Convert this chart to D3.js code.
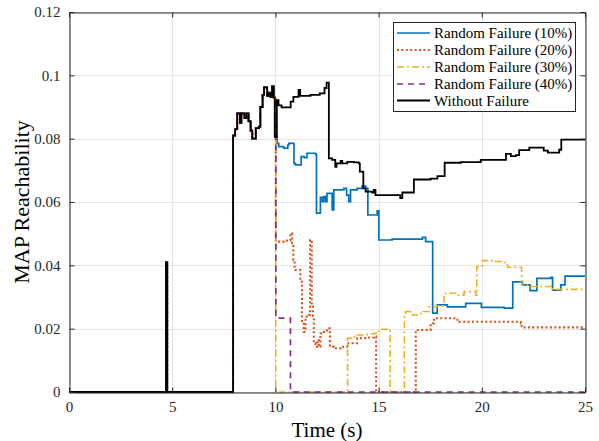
<!DOCTYPE html>
<html>
<head>
<meta charset="utf-8">
<script src="https://cdn.jsdelivr.net/npm/d3@7"></script>
<style>
  body { margin: 0; background: #fff; }
  svg { display: block; }
  svg text { font-family: "Liberation Serif", "Times New Roman", serif; }
</style>
</head>
<body>
<svg id="chart" width="599" height="441"></svg>
<script>
// ---- data: [time (s), reachability], each value holds until the next time ----
const xTicks = [0, 5, 10, 15, 20, 25];
const yTicks = [0, 0.02, 0.04, 0.06, 0.08, 0.1, 0.12];
const yTickLabels = ["0", "0.02", "0.04", "0.06", "0.08", "0.1", "0.12"];
const seriesNames = ["Random Failure (10%)", "Random Failure (20%)", "Random Failure (30%)", "Random Failure (40%)", "Without Failure"];

// shared start, before any failure is injected
const sharedStart = [
  [0, 0], [4.70, 0.041], [4.76, 0], [7.95, 0.0810], [8.05, 0.0830], [8.15, 0.0880],
  [8.28, 0.0850], [8.35, 0.0880], [8.50, 0.0865], [8.60, 0.0880], [8.70, 0.0855],
  [8.80, 0.0825], [8.88, 0.0800], [9.05, 0.0833], [9.20, 0.0838], [9.27, 0.0900],
  [9.38, 0.0938], [9.45, 0.0962], [9.60, 0.0935], [9.68, 0.0945], [9.76, 0.0932],
  [9.84, 0.0965], [9.92, 0.0930]
];

const fail10 = [
  [9.97, 0.0806], [10.08, 0.0785], [10.16, 0.0775], [10.40, 0.0770], [10.60, 0.0780],
  [10.65, 0.0785], [10.90, 0.0722], [10.97, 0.0717], [11.25, 0.0743], [11.40, 0.0740],
  [11.53, 0.0754], [11.95, 0.0750], [11.99, 0.0565], [12.18, 0.0615], [12.27, 0.0601],
  [12.34, 0.0617], [12.43, 0.0601], [12.50, 0.0627], [12.75, 0.0575], [12.83, 0.0638],
  [13.32, 0.0643], [13.45, 0.0622], [13.55, 0.0601], [13.64, 0.0638], [13.96, 0.0643],
  [14.20, 0.0650], [14.37, 0.0643], [14.48, 0.0559], [14.93, 0.0572], [15.01, 0.0480],
  [15.66, 0.0483], [17.12, 0.0488], [17.28, 0.0475], [17.62, 0.0249], [17.84, 0.0275],
  [18.33, 0.0269], [19.22, 0.0280], [19.98, 0.0267], [21.08, 0.0265], [21.50, 0.0348],
  [21.97, 0.0338], [22.34, 0.0320], [22.67, 0.0359], [23.35, 0.0362], [23.43, 0.0322],
  [23.83, 0.0338], [24.03, 0.0366], [25, 0.0364]
];

const fail20 = [
  [10.02, 0.0475], [10.40, 0.0478], [10.73, 0.0501], [10.81, 0.0470], [10.87, 0.0417],
  [10.93, 0.0385], [11.21, 0.0348], [11.29, 0.0220], [11.37, 0.0190], [11.46, 0.0238],
  [11.62, 0.0243], [11.68, 0.0480], [11.76, 0.0270], [11.82, 0.0240], [11.86, 0.0154],
  [11.94, 0.0143], [12.03, 0.0164], [12.10, 0.0143], [12.18, 0.0185], [12.35, 0.0190],
  [12.50, 0.0201], [12.64, 0.0143], [12.83, 0.0138], [13.16, 0.0143], [13.48, 0.0154],
  [13.96, 0.0170], [14.45, 0.0172], [14.77, 0.0175], [14.88, 0], [16.80, 0.0196],
  [17.52, 0.0217], [17.68, 0.0233], [18.82, 0.0228], [18.90, 0.0222], [21.89, 0.0217],
  [21.93, 0.0204], [25, 0.0204]
];

const fail30 = [
  [10.02, 0], [13.50, 0.0170], [13.72, 0.0175], [13.96, 0.0180], [14.45, 0.0183],
  [14.77, 0.0185], [15.01, 0.0198], [15.56, 0], [16.25, 0.0238], [16.31, 0.0254],
  [16.47, 0.0259], [16.55, 0.0243], [17.04, 0.0254], [17.44, 0.0269], [17.80, 0.0272],
  [18.17, 0.0306], [18.25, 0.0312], [18.74, 0.0306], [19.14, 0.0317], [19.71, 0.0306],
  [19.76, 0.0396], [19.95, 0.0398], [20.03, 0.0415], [20.68, 0.0412], [21.08, 0.0409],
  [21.25, 0.0394], [21.93, 0.0338], [22.22, 0.0333], [23.35, 0.0335], [23.43, 0.0324],
  [25, 0.0324]
];

const fail40 = [
  [10.02, 0.0233], [10.73, 0], [25, 0]
];

const noFailure = [
  [9.97, 0.0806], [10.07, 0.0922], [10.15, 0.0905], [10.30, 0.0899], [10.74, 0.0917],
  [10.87, 0.0932], [11.12, 0.0954], [11.20, 0.0935], [11.70, 0.0938], [12.15, 0.0943],
  [12.38, 0.0960], [12.48, 0.0977], [12.59, 0.0738], [12.75, 0.0733], [12.90, 0.0711],
  [12.96, 0.0722], [13.16, 0.0730], [13.24, 0.0722], [13.48, 0.0727], [13.80, 0.0725],
  [14.04, 0.0722], [14.09, 0.0696], [14.26, 0.0643], [14.37, 0.0633], [14.69, 0.0630],
  [14.77, 0.0638], [14.85, 0.0622], [16.05, 0.0612], [16.15, 0.0630], [16.71, 0.0671],
  [17.52, 0.0674], [17.85, 0.0682], [18.20, 0.0724], [18.98, 0.0726], [19.95, 0.0733],
  [21.17, 0.0752], [21.41, 0.0745], [21.65, 0.0748], [21.81, 0.0764], [22.30, 0.0772],
  [23.00, 0.0762], [23.20, 0.0756], [23.75, 0.0765], [23.85, 0.0797], [25, 0.0797]
];

const seriesColors = ["#0072BD", "#D95319", "#EDB120", "#7E2F8E", "#000000"];
const seriesDash = [null, "2,2.4", "7,3,2,3", "6,5", null];
const seriesWidth = [1.7, 2.1, 1.6, 1.7, 1.8];

// ---- layout ----
const svg = d3.select("#chart");
const M = { left: 69, right: 585, top: 12, bottom: 392 };
const FONT = "Liberation Serif, Times New Roman, serif";

const x = d3.scaleLinear().domain([0, 25]).range([M.left, M.right]);
const y = d3.scaleLinear().domain([0, 0.12]).range([M.bottom, M.top]);

// grid
const grid = svg.append("g").attr("stroke", "#e3e3e3").attr("stroke-width", 1);
xTicks.forEach(t => grid.append("line")
  .attr("x1", Math.round(x(t)) + 0.5).attr("x2", Math.round(x(t)) + 0.5)
  .attr("y1", M.top).attr("y2", M.bottom));
yTicks.forEach(t => grid.append("line")
  .attr("x1", M.left).attr("x2", M.right)
  .attr("y1", Math.round(y(t)) + 0.5).attr("y2", Math.round(y(t)) + 0.5));

// lines
svg.append("clipPath").attr("id", "plotClip").append("rect")
  .attr("x", M.left).attr("y", M.top - 2)
  .attr("width", M.right - M.left).attr("height", M.bottom - M.top + 3);

const line = d3.line().x(d => x(d[0])).y(d => y(d[1])).curve(d3.curveStepAfter);
const allSeries = [fail10, fail20, fail30, fail40, noFailure].map(tail => sharedStart.concat(tail));

const plot = svg.append("g").attr("clip-path", "url(#plotClip)");
allSeries.forEach((data, i) => {
  plot.append("path")
    .datum(data)
    .attr("d", line)
    .attr("fill", "none")
    .attr("stroke", seriesColors[i])
    .attr("stroke-width", seriesWidth[i])
    .attr("stroke-linejoin", "miter")
    .attr("stroke-dasharray", seriesDash[i]);
});

// axes: d3 axes with inward ticks on all four sides
const tickFmtY = (d, i) => yTickLabels[i];
const axisStyle = g => {
  g.attr("font-family", FONT).attr("font-size", 15);
  g.select(".domain").attr("stroke", "#262626").attr("stroke-width", 1);
  g.selectAll(".tick line").attr("stroke", "#262626");
  g.selectAll(".tick text").style("font-family", FONT).style("font-size", "15px").attr("fill", "#262626");
};

svg.append("g").attr("transform", `translate(0,${M.bottom + 0.5})`)
  .call(d3.axisBottom(x).tickValues(xTicks).tickSizeInner(-5).tickSizeOuter(0).tickPadding(9))
  .call(axisStyle);
svg.append("g").attr("transform", `translate(0,${M.top + 0.5})`)
  .call(d3.axisTop(x).tickValues(xTicks).tickSizeInner(-5).tickSizeOuter(0).tickFormat(""))
  .call(axisStyle);
svg.append("g").attr("transform", `translate(${M.left + 0.5},0)`)
  .call(d3.axisLeft(y).tickValues(yTicks).tickFormat(tickFmtY).tickSizeInner(-5).tickSizeOuter(0).tickPadding(9))
  .call(axisStyle);
svg.append("g").attr("transform", `translate(${M.right + 0.5},0)`)
  .call(d3.axisRight(y).tickValues(yTicks).tickSizeInner(-5).tickSizeOuter(0).tickFormat(""))
  .call(axisStyle);

// axis titles
svg.append("text")
  .attr("x", (M.left + M.right) / 2).attr("y", 437)
  .attr("text-anchor", "middle")
  .style("font-size", "21px").attr("fill", "#000")
  .text("Time (s)");
svg.append("text")
  .attr("transform", `translate(29,${(M.top + M.bottom) / 2}) rotate(-90)`)
  .attr("text-anchor", "middle")
  .style("font-size", "22px").attr("fill", "#000")
  .text("MAP Reachability");

// legend
const lg = svg.append("g");
lg.append("rect")
  .attr("x", 393.5).attr("y", 22.5).attr("width", 182).attr("height", 89)
  .attr("fill", "#fff").attr("stroke", "#262626").attr("stroke-width", 1);
const rowY = [33, 50, 67, 84, 100.5];
seriesNames.forEach((name, i) => {
  lg.append("line")
    .attr("x1", 397).attr("x2", 430).attr("y1", rowY[i]).attr("y2", rowY[i])
    .attr("stroke", seriesColors[i]).attr("stroke-width", seriesWidth[i])
    .attr("stroke-dasharray", seriesDash[i]);
  lg.append("text")
    .attr("x", 434).attr("y", rowY[i] + 5)
    .style("font-size", "15px").attr("fill", "#000")
    .text(name);
});
</script>
</body>
</html>
